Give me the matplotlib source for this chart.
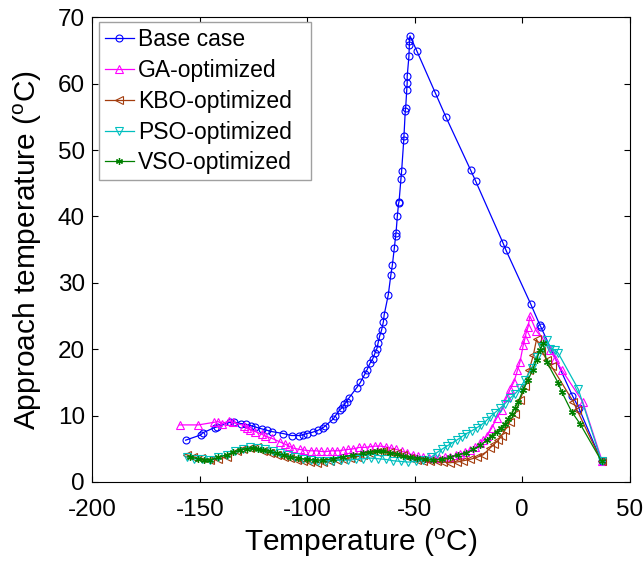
import matplotlib
matplotlib.use("Agg")
import matplotlib.pyplot as plt

plt.rcParams['font.family'] = ['Liberation Sans', 'DejaVu Sans']
plt.rcParams['mathtext.fontset'] = 'custom'
plt.rcParams['mathtext.rm'] = 'Liberation Sans'
plt.rcParams['mathtext.it'] = 'Liberation Sans'
plt.rcParams['mathtext.default'] = 'rm'
plt.rcParams['axes.unicode_minus'] = False

# base case
base_x = [-156.6, -149.5, -148.7, -143.1, -141.9, -136.0, -134.0, -130.9, -128.5, -126.3,
          -124.3, -121.2, -118.9, -116.6, -111.2, -107.3, -103.9, -101.9, -100.3, -97.5,
          -94.9, -92.6, -91.8, -87.9, -87.1, -84.8, -83.7, -82.8, -81.7, -80.5,
          -77.0, -75.3, -73.3, -72.2, -70.8, -69.6, -68.5, -67.6, -67.0, -66.3,
          -65.4, -64.6, -64.2, -62.3, -61.1, -60.4, -59.5, -58.9, -58.7, -58.1,
          -57.5, -57.3, -56.4, -56.1, -55.1, -55.0, -54.4, -54.2, -53.7, -53.5,
          -53.5, -52.7, -52.5, -52.5, -52.2, -49.1, -40.4, -35.5, -24.0, -21.6,
          -8.9, -7.5, 4.0, 8.3, 8.8, 23.4, 26.3, 37.0]
base_y = [6.3, 7.1, 7.4, 8.2, 8.3, 9.0, 9.0, 8.8, 8.7, 8.5,
          8.3, 8.0, 7.8, 7.6, 7.3, 7.0, 7.0, 7.1, 7.3, 7.5,
          7.8, 8.2, 8.4, 9.5, 9.9, 10.9, 11.2, 11.7, 12.1, 12.7,
          14.2, 15.0, 16.2, 16.9, 17.9, 18.5, 19.4, 20.1, 21.0, 22.0,
          22.9, 24.1, 25.2, 28.2, 31.2, 32.7, 35.2, 37.0, 37.5, 40.0,
          42.0, 42.2, 45.7, 46.8, 51.5, 52.1, 55.9, 56.4, 59.1, 60.1,
          61.1, 64.1, 65.8, 66.5, 67.2, 65.0, 58.6, 55.0, 47.0, 45.3,
          36.0, 34.9, 26.8, 23.6, 23.3, 13.0, 11.2, 3.1]

# GA-optimized
ga_x = [-159.4, -150.7, -143.2, -141.5, -139.8, -136.3, -134.5, -129.5, -127.9, -126.5,
        -124.3, -121.2, -119.5, -116.6, -112.5, -110.4, -108.5, -106.5, -103.5, -101.5,
        -98.5, -96.0, -93.5, -91.0, -88.5, -86.0, -83.5, -81.0, -78.5, -76.0,
        -73.5, -71.0, -68.5, -66.0, -63.5, -61.0, -58.5, -56.0, -53.5, -51.0,
        -48.5, -46.0, -43.5, -41.0, -38.5, -36.0, -33.5, -31.0, -28.9, -26.5,
        -24.3, -22.0, -19.6, -18.0, -16.5, -14.2, -11.9, -9.5, -7.2, -5.5,
        -3.8, -2.2, -1.0, 0.5, 1.3, 1.8, 2.8, 3.6, 6.5, 9.8,
        12.9, 15.3, 18.4, 28.2, 37.3]
ga_y = [8.6, 8.6, 9.0, 9.1, 8.8, 9.2, 9.0, 8.5, 8.2, 7.9,
        7.6, 7.2, 6.9, 6.6, 6.0, 5.7, 5.4, 5.1, 4.9, 4.8,
        4.7, 4.7, 4.6, 4.6, 4.7, 4.7, 4.8, 4.9, 5.0, 5.2,
        5.2, 5.3, 5.4, 5.4, 5.3, 5.1, 4.9, 4.6, 4.4, 4.1,
        3.9, 3.7, 3.6, 3.6, 3.6, 3.7, 3.8, 4.0, 4.2, 4.5,
        4.8, 5.2, 5.8, 6.3, 6.9, 8.1, 9.6, 10.8, 12.8, 14.0,
        15.1, 16.8, 18.1, 20.6, 21.6, 22.4, 23.4, 25.0, 22.8, 21.5,
        19.9, 18.6, 16.9, 12.1, 3.1]

# KBO-optimized
kbo_x = [-156.1, -153.0, -149.5, -145.3, -141.5, -137.5, -132.9, -129.8, -126.7, -123.5,
         -120.5, -117.3, -114.2, -111.0, -108.0, -105.0, -101.9, -98.8, -95.6, -92.5,
         -89.4, -86.3, -83.2, -80.1, -77.0, -73.9, -70.8, -67.7, -64.6, -61.5,
         -58.4, -55.3, -52.2, -49.1, -46.0, -42.9, -39.8, -36.7, -33.6, -30.5,
         -27.4, -24.3, -21.2, -18.1, -15.0, -13.0, -11.1, -9.5, -8.0, -5.7,
         -3.3, -1.0, 1.3, 3.3, 5.2, 6.7, 9.0, 11.4, 13.7, 23.8,
         25.6, 37.0]
kbo_y = [4.1, 3.8, 3.6, 3.3, 3.5, 3.8, 4.6, 4.9, 5.1, 5.2,
         4.6, 4.4, 4.1, 3.8, 3.6, 3.3, 3.1, 3.0, 2.9, 3.0,
         3.1, 3.3, 3.5, 3.6, 3.8, 4.0, 4.3, 4.5, 4.6, 4.5,
         4.3, 4.0, 3.6, 3.3, 3.2, 3.1, 3.1, 3.0, 2.9, 3.0,
         3.2, 3.4, 3.7, 4.1, 5.1, 5.7, 6.3, 7.0, 7.8, 9.1,
         10.3, 12.3, 14.4, 16.9, 19.1, 21.5, 19.8, 18.4, 17.4, 12.1,
         10.8, 3.1]

# PSO-optimized
pso_x = [-156.0, -152.5, -149.0, -145.3, -141.5, -137.5, -133.5, -130.0, -126.5, -123.0,
         -119.5, -116.0, -112.5, -109.0, -105.5, -102.0, -98.5, -95.0, -91.5, -88.0,
         -84.5, -81.0, -77.5, -74.0, -70.5, -67.0, -63.5, -60.0, -56.5, -53.0,
         -49.5, -46.0, -42.5, -39.8, -37.5, -35.1, -33.0, -30.5, -28.2, -25.9,
         -23.5, -21.0, -19.0, -16.8, -15.0, -12.8, -10.3, -8.0, -5.7, -3.3,
         -1.0, 1.3, 4.4, 6.7, 9.1, 11.4, 12.9, 15.3, 16.8, 26.1,
         37.0]
pso_y = [3.8, 3.5, 3.4, 3.3, 3.7, 4.1, 4.6, 5.0, 5.2, 5.1,
         4.9, 4.6, 4.3, 4.0, 3.7, 3.5, 3.3, 3.2, 3.2, 3.2,
         3.3, 3.3, 3.4, 3.5, 3.6, 3.5, 3.4, 3.2, 3.1, 3.0,
         3.1, 3.3, 3.7, 4.4, 4.9, 5.4, 5.8, 6.3, 6.8, 7.3,
         7.7, 8.2, 8.6, 9.2, 9.8, 10.4, 11.1, 11.8, 12.6, 13.3,
         14.1, 15.4, 17.1, 18.9, 20.4, 21.4, 20.1, 19.9, 19.4, 14.0,
         3.1]

# VSO-optimized
vso_x = [-154.6, -151.0, -148.0, -145.3, -141.5, -137.5, -134.5, -131.3, -128.2, -125.1,
         -122.8, -120.5, -117.3, -114.2, -111.0, -108.0, -104.2, -100.3, -96.5, -92.6,
         -88.0, -83.2, -78.6, -74.0, -70.8, -67.7, -64.6, -61.5, -58.4, -55.3,
         -52.2, -49.1, -45.2, -41.4, -37.5, -33.6, -29.8, -25.9, -22.8, -19.6,
         -16.5, -14.2, -11.9, -10.0, -8.0, -6.5, -4.9, -3.3, -1.8, 0.5,
         2.8, 4.9, 6.7, 8.3, 9.8, 11.4, 16.8, 18.4, 23.0, 26.9,
         37.0]
vso_y = [3.8, 3.5, 3.3, 3.3, 3.7, 4.1, 4.5, 4.8, 5.0, 5.1,
         5.0, 4.8, 4.6, 4.3, 4.0, 3.8, 3.6, 3.4, 3.3, 3.3,
         3.5, 3.8, 4.1, 4.3, 4.5, 4.6, 4.6, 4.4, 4.2, 3.9,
         3.7, 3.6, 3.4, 3.3, 3.4, 3.7, 4.1, 4.4, 4.9, 5.5,
         6.3, 7.0, 7.6, 8.2, 8.8, 9.5, 10.3, 11.2, 12.1, 13.9,
         15.4, 16.9, 18.4, 19.9, 20.9, 18.1, 14.9, 13.6, 10.6, 8.8,
         3.1]

fig = plt.figure(figsize=(6.44, 5.64), dpi=100)
ax = fig.add_axes([0.1435, 0.1454, 0.8341, 0.8239])

lw = 0.9
ms = 5
ax.plot(base_x, base_y, color='#0000FF', marker='o', mfc='none', ms=ms, mew=0.8, lw=lw, label='Base case')
ax.plot(ga_x, ga_y, color='#FF00FF', marker='^', mfc='none', ms=ms + 1, mew=0.8, lw=lw, label='GA-optimized')
ax.plot(kbo_x, kbo_y, color='#A33C0D', marker='<', mfc='none', ms=ms + 1, mew=0.8, lw=lw, label='KBO-optimized')
ax.plot(pso_x, pso_y, color='#00BFBF', marker='v', mfc='none', ms=ms + 1, mew=0.8, lw=lw, label='PSO-optimized')
ax.plot(vso_x, vso_y, color='#008000', marker=(6, 2, 0), ms=ms, mew=0.9, lw=lw, label='VSO-optimized')

ax.set_xlim(-200, 50)
ax.set_ylim(0, 70)
ax.set_xticks([-200, -150, -100, -50, 0, 50])
ax.set_yticks([0, 10, 20, 30, 40, 50, 60, 70])
ax.tick_params(direction='in', length=4.5, width=0.8, top=True, right=True, labelsize=17.5)
ax.tick_params(axis='x', pad=12)
ax.tick_params(axis='y', pad=5.5)
for s in ax.spines.values():
    s.set_linewidth(0.8)

ax.set_xlabel('Temperature ($^{o}$C)', fontsize=21.5, labelpad=4)
ax.set_ylabel('Approach temperature ($^{o}$C)', fontsize=21.5, labelpad=10)

leg = ax.legend(loc='upper left', bbox_to_anchor=(0.0128, 0.5, 0.3946, 0.489), mode='expand',
                borderaxespad=0, fontsize=16.5, handlelength=1.25, handletextpad=0.2,
                borderpad=0.25, labelspacing=0.34, fancybox=False, framealpha=1,
                edgecolor='#A0A0A0')
leg.get_frame().set_linewidth(1.0)

fig.savefig('out.png', dpi=100)
